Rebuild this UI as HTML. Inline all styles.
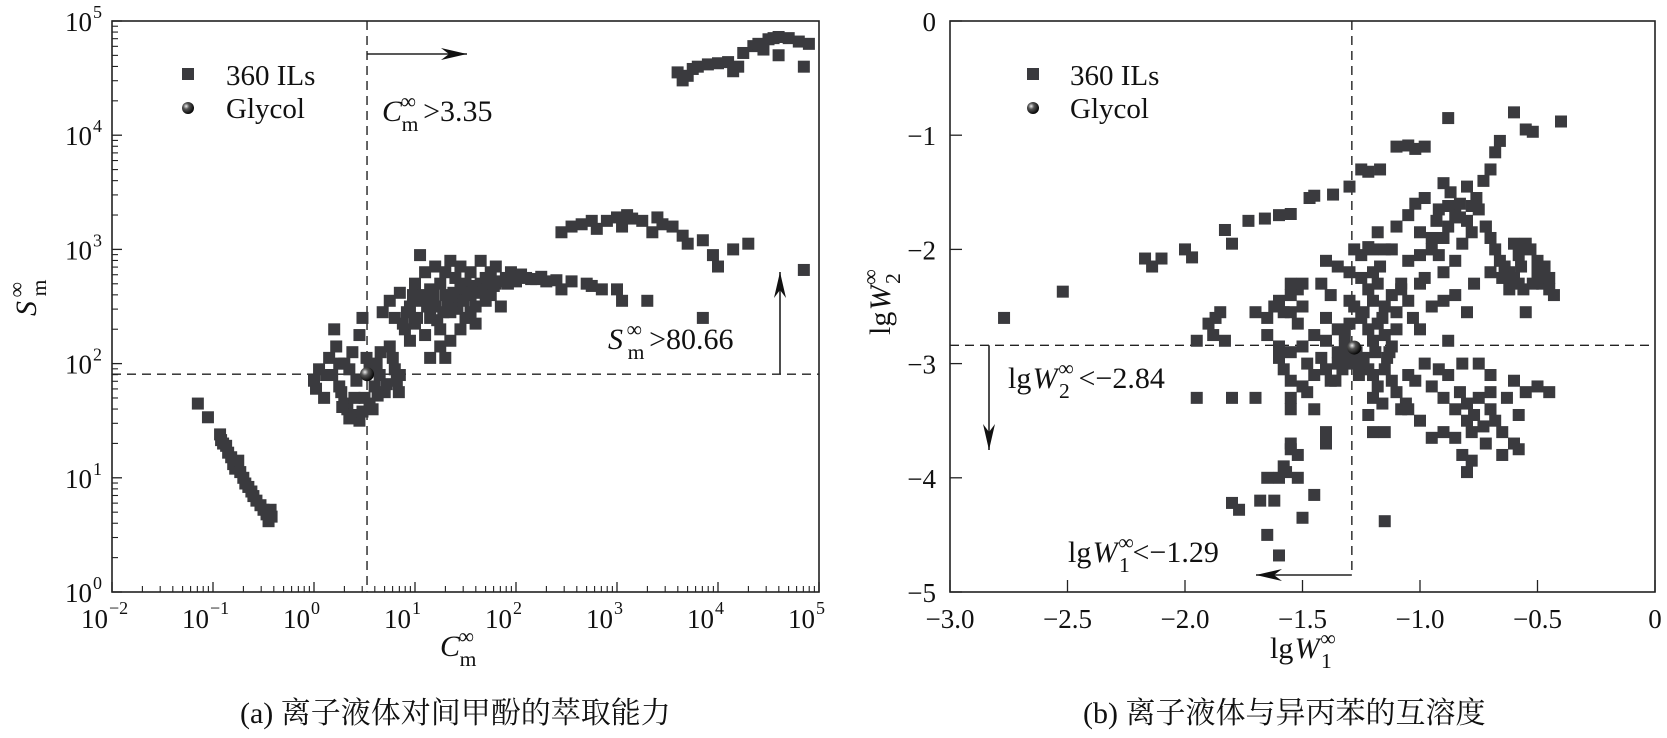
<!DOCTYPE html>
<html><head><meta charset="utf-8"><style>
html,body{margin:0;padding:0;background:#fff;}
svg{display:block;}
svg text{font-family:"Liberation Serif","Times New Roman","Noto Serif CJK SC",serif;}
</style></head><body>
<svg id="c" width="1667" height="738" viewBox="0 0 1667 738"></svg>
<script>
// ---- Panel (a) data: log10 C_m^inf and log10 S_m^inf ----
const aLogC = [-1.15,-1.05,-0.93,-0.92,-0.9,-0.87,-0.85,-0.82,-0.8,-0.78,-0.75,-0.73,-0.7,-0.68,-0.65,-0.62,-0.6,-0.57,-0.53,-0.5,-0.47,-0.45,-0.42,-0.43,
0.0,0.02,0.05,0.1,0.15,0.18,0.2,0.22,0.25,0.27,0.3,0.3,0.33,0.35,0.38,0.4,0.42,0.45,0.45,0.48,0.5,0.52,0.55,0.55,0.6,0.62,0.65,0.68,0.7,0.75,0.78,0.8,0.82,0.84,0.85,0.35,0.4,0.25,0.12,0.58,0.63,0.72,0.28,0.48,0.66,
0.75,0.8,0.85,0.9,0.95,1.0,1.0,1.05,1.05,1.1,1.1,1.15,1.15,1.2,1.2,1.25,1.25,1.3,1.3,1.35,1.35,1.4,1.4,1.45,1.45,1.5,1.5,1.55,1.55,1.6,1.6,1.65,1.65,1.7,1.7,1.75,1.8,1.8,1.9,1.95,2.0,2.05,2.1,2.2,2.3,2.4,2.45,2.55,2.7,2.75,2.85,1.25,1.3,1.45,1.55,1.75,1.85,1.15,0.95,1.35,
0.88,0.92,0.98,1.02,1.08,1.12,1.18,1.22,1.28,1.32,1.38,1.42,1.48,1.52,1.58,1.62,1.68,1.72,1.78,1.85,1.92,2.0,2.15,2.25,
3.0,3.05,3.3,3.85,
2.45,2.55,2.65,2.75,2.8,2.9,3.0,3.05,3.15,3.25,3.35,3.45,3.55,3.65,3.7,3.85,3.95,4.15,4.3,4.0,3.1,3.4,
4.85,
3.6,3.65,3.7,3.75,3.8,3.9,4.0,4.1,4.15,4.2,4.25,4.35,4.4,4.5,4.55,4.6,4.7,4.6,4.8,4.85,4.9,4.45];
const aLogS = [1.65,1.53,1.38,1.33,1.3,1.28,1.22,1.18,1.12,1.08,1.15,1.05,1.0,0.95,0.92,0.88,0.84,0.8,0.76,0.72,0.68,0.62,0.66,0.72,
1.85,1.78,1.95,1.7,2.05,1.9,2.3,2.15,1.8,1.75,2.0,1.65,1.6,1.95,2.1,1.55,1.85,2.25,1.5,2.4,1.7,2.05,1.95,1.65,1.8,2.0,1.9,2.45,1.75,2.15,2.05,1.95,1.85,1.75,1.9,1.52,1.7,2.0,1.9,1.6,1.72,1.82,1.62,1.58,2.1,
2.55,2.4,2.62,2.3,2.5,2.7,2.35,2.95,2.55,2.8,2.25,2.65,2.4,2.85,2.5,2.3,2.7,2.6,2.8,2.45,2.2,2.75,2.55,2.3,2.85,2.7,2.4,2.6,2.8,2.5,2.35,2.9,2.7,2.55,2.75,2.8,2.7,2.85,2.75,2.8,2.72,2.78,2.75,2.74,2.72,2.73,2.65,2.72,2.7,2.68,2.65,2.15,2.05,2.65,2.45,2.6,2.5,2.05,2.2,2.9,
2.35,2.45,2.6,2.4,2.6,2.5,2.6,2.38,2.45,2.52,2.62,2.48,2.55,2.62,2.68,2.62,2.65,2.7,2.68,2.72,2.7,2.76,2.74,2.76,
2.65,2.55,2.55,2.4,
3.15,3.2,3.22,3.25,3.18,3.25,3.28,3.2,3.27,3.25,3.15,3.22,3.2,3.12,3.05,3.08,2.95,3.0,3.05,2.85,3.3,3.28,
2.82,
4.55,4.48,4.52,4.58,4.6,4.62,4.63,4.64,4.56,4.6,4.72,4.78,4.8,4.84,4.85,4.86,4.85,4.7,4.82,4.6,4.8,4.75];
const aGlycol = [0.525, 1.907];
const aCut = [0.525, 1.907];

// ---- Panel (b) data: lgW1 and lgW2 ----
const bW1 = [-2.77,-2.52,-2.17,-2.14,-2.1,-2.0,-1.97,-1.83,-1.8,-1.73,-1.66,-1.6,-1.55,-1.47,-1.45,-1.37,-1.3,-1.25,-1.22,-1.17,-1.1,-1.05,-1.02,-0.98,-0.88,-0.6,-0.55,-0.52,-0.4,
-1.05,-1.02,-1.0,-0.98,-0.95,-0.93,-0.92,-0.9,-0.88,-0.87,-0.85,-0.85,-0.83,-0.82,-0.8,-0.8,-0.78,-0.77,-0.76,-0.75,-0.73,-0.72,-0.7,-0.68,-0.66,-1.1,-1.12,-1.08,-1.05,-0.98,-0.9,-0.85,-0.8,-0.95,-1.0,-0.92,-0.88,-0.83,-0.78,-0.9,
-0.72,-0.7,-0.68,-0.66,-0.64,-0.62,-0.6,-0.58,-0.56,-0.55,-0.5,-0.48,-0.45,-0.43,-0.6,-0.58,-0.55,-0.53,-0.5,-0.47,-0.45,-0.62,-0.57,-0.65,-0.52,-0.7,
-1.28,-1.25,-1.22,-1.2,-1.18,-1.15,-1.25,-1.22,-1.2,-1.18,-1.15,-1.12,-1.1,-1.08,-1.25,-1.22,-1.2,-1.18,-1.15,-1.12,-1.1,-1.28,-1.3,-1.35,-1.32,-1.35,-1.4,-1.4,-1.42,-1.45,-1.5,-1.48,-1.52,-1.55,-1.3,-1.35,-1.4,-1.42,-1.38,-1.05,-1.03,-1.0,-1.2,-1.17,-1.0,-0.95,-0.9,
-1.55,-1.52,-1.5,-1.55,-1.6,-1.62,-1.58,-1.65,-1.55,-1.85,-1.87,-1.88,-1.83,-1.9,-1.95,-1.65,-1.6,-1.5,-1.7,
-1.6,-1.58,-1.55,-1.55,-1.5,-1.48,-1.45,-1.4,-1.38,-1.35,-1.3,-1.28,-1.25,-1.22,-1.2,-1.2,-1.18,-1.16,-1.15,-1.12,-1.1,-1.08,-1.06,-1.2,-1.15,-1.22,-1.45,-1.55,-1.8,-1.7,-1.95,-1.55,-1.55,-1.52,-1.57,-1.52,-1.58,-1.6,-1.65,-1.68,-1.62,-1.5,-1.65,-1.6,-1.8,-1.77,-1.45,-1.15,-1.4,-1.4,-1.3,
-1.05,-1.02,-0.98,-0.95,-0.92,-0.9,-0.88,-0.85,-0.83,-0.8,-0.8,-0.78,-0.77,-0.75,-0.73,-0.72,-0.7,-0.68,-0.65,-0.63,-0.6,-0.58,-0.55,-0.5,-0.45,-0.82,-0.8,-0.78,-0.85,-0.9,-0.95,-1.0,-1.05,-0.82,-0.75,-0.7,-0.6,-0.65,-0.58,-0.88,-0.7,
-1.32,-1.27,-1.24,-1.33,-1.26,-1.19,-1.14,-1.24,-1.3,-1.16,-1.13,-1.36];
const bW2 = [-2.6,-2.37,-2.08,-2.15,-2.08,-2.0,-2.07,-1.83,-1.95,-1.75,-1.73,-1.7,-1.69,-1.55,-1.53,-1.52,-1.45,-1.3,-1.32,-1.3,-1.1,-1.09,-1.12,-1.1,-0.85,-0.8,-0.95,-0.97,-0.88,
-1.7,-1.6,-1.85,-1.55,-2.0,-1.75,-1.65,-1.9,-1.8,-1.5,-1.7,-2.1,-1.6,-1.95,-1.75,-1.45,-1.85,-2.3,-1.55,-1.65,-1.4,-1.8,-1.3,-1.15,-1.05,-1.8,-2.0,-2.3,-2.1,-2.25,-2.2,-2.4,-2.55,-1.9,-2.05,-2.05,-1.62,-1.72,-1.62,-1.42,
-1.8,-1.9,-2.0,-2.1,-2.15,-2.2,-2.25,-2.3,-2.35,-2.55,-2.2,-2.3,-2.35,-2.4,-1.95,-2.05,-1.95,-2.0,-2.1,-2.15,-2.25,-2.35,-2.15,-2.25,-2.3,-2.2,
-2.0,-2.05,-1.98,-2.0,-1.85,-2.0,-2.25,-2.35,-2.45,-2.3,-2.5,-2.4,-2.55,-2.35,-2.6,-2.7,-2.8,-2.65,-2.75,-2.85,-2.7,-2.5,-2.65,-2.7,-2.85,-2.9,-2.8,-2.6,-2.95,-2.75,-2.85,-3.0,-2.65,-2.9,-2.2,-2.15,-2.1,-2.3,-2.4,-2.45,-2.6,-2.3,-2.2,-2.15,-2.7,-2.5,-2.45,
-2.3,-2.35,-2.3,-2.4,-2.45,-2.5,-2.55,-2.6,-2.55,-2.55,-2.6,-2.75,-2.8,-2.65,-2.8,-2.75,-2.85,-2.5,-2.55,
-2.95,-3.05,-3.15,-3.3,-3.2,-3.25,-3.1,-3.05,-3.15,-3.0,-2.9,-2.95,-3.0,-3.05,-3.1,-3.3,-3.2,-3.35,-3.05,-3.15,-3.25,-3.4,-3.35,-3.6,-3.6,-3.45,-3.4,-3.4,-3.3,-3.3,-3.3,-3.75,-3.7,-3.8,-3.95,-4.0,-3.9,-4.0,-4.0,-4.2,-4.2,-4.35,-4.5,-4.68,-4.22,-4.28,-4.15,-4.38,-3.7,-3.6,-3.0,
-3.1,-3.15,-3.0,-3.2,-3.05,-3.3,-3.1,-3.4,-3.25,-3.5,-3.35,-3.6,-3.45,-3.3,-3.55,-3.7,-3.4,-3.5,-3.6,-3.3,-3.7,-3.45,-3.25,-3.2,-3.25,-3.8,-3.95,-3.85,-3.65,-3.6,-3.65,-3.5,-3.4,-3.0,-3.0,-3.1,-3.15,-3.8,-3.75,-2.8,-3.25,
-2.75,-2.9,-2.95,-3.05,-3.1,-2.9,-2.95,-2.55,-2.45,-2.6,-2.9,-3.15];
const bGlycol = [-1.28, -2.86];
const bCut = [-1.29, -2.84];

const aXTicks = [-2,-1,0,1,2,3,4,5];
const aYTicks = [0,1,2,3,4,5];
const bXTicks = [-3.0,-2.5,-2.0,-1.5,-1.0,-0.5,0];
const bXTickLabels = ["−3.0","−2.5","−2.0","−1.5","−1.0","−0.5","0"];
const bYTicks = [0,-1,-2,-3,-4,-5];
const bYTickLabels = ["0","−1","−2","−3","−4","−5"];

const NS="http://www.w3.org/2000/svg";
const FONT='"Liberation Serif","Times New Roman","Noto Serif CJK SC",serif';
const svg=document.getElementById('c');
function el(tag,attrs,parent){const e=document.createElementNS(NS,tag);for(const k in attrs)e.setAttribute(k,attrs[k]);(parent||svg).appendChild(e);return e;}
function txt(s,x,y,size,parent,anchor,style){const t=el('text',{x:x,y:y,'font-size':size,'text-anchor':anchor||'start',fill:'#111','font-family':FONT},parent);if(style)t.setAttribute('font-style',style);t.textContent=s;return t;}

const aL=112,aR=819,aT=21,aB=592;
const ax=v=>aL+(v+2)*(aR-aL)/7;
const ay=v=>aB-v*(aB-aT)/5;
const bL=950,bR=1655,bT=21,bB=592;
const bx=v=>bL+(v+3)*(bR-bL)/3;
const by=v=>bT-v*(bB-bT)/5;

const defs=el('defs',{});
const rg=el('radialGradient',{id:'ball',cx:'0.35',cy:'0.35',r:'0.7'},defs);
el('stop',{offset:'0','stop-color':'#eee'},rg);
el('stop',{offset:'0.35','stop-color':'#555'},rg);
el('stop',{offset:'1','stop-color':'#000'},rg);

// ===== Panel a =====
const ga=el('g',{});


const frameA=el('rect',{x:aL,y:aT,width:aR-aL,height:aB-aT,fill:'none',stroke:'#222','stroke-width':1.6},ga);


aXTicks.forEach((t,i)=>{
  const x=ax(t);
  el('line',{x1:x,y1:aB,x2:x,y2:aB-10,stroke:'#222','stroke-width':1.3},ga);
  if(i<aXTicks.length-1){for(let m=2;m<10;m++){const xm=ax(t+Math.log10(m));el('line',{x1:xm,y1:aB,x2:xm,y2:aB-6,stroke:'#222','stroke-width':1.1},ga);}}
  const g=el('g',{},ga);
  
  
  txt('10',x-4,aB+36,27,g,'end');
  txt(t<0?'−'+(-t):String(t),x-3,aB+22,18,g,'start');
});
aYTicks.forEach((t,i)=>{
  const y=ay(t);
  el('line',{x1:aL,y1:y,x2:aL+10,y2:y,stroke:'#222','stroke-width':1.3},ga);
  if(i<aYTicks.length-1){for(let m=2;m<10;m++){const ym=ay(t+Math.log10(m));el('line',{x1:aL,y1:ym,x2:aL+6,y2:ym,stroke:'#222','stroke-width':1.1},ga);}}
  const g=el('g',{},ga);
  
  
  txt('10',aL-20,y+10,27,g,'end');
  txt(String(t),aL-19,y-3,18,g,'start');
});
el('line',{x1:ax(aCut[0]),y1:aT,x2:ax(aCut[0]),y2:aB,stroke:'#222','stroke-width':1.4,'stroke-dasharray':'9,6'},ga);
el('line',{x1:aL,y1:ay(aCut[1]),x2:aR,y2:ay(aCut[1]),stroke:'#222','stroke-width':1.4,'stroke-dasharray':'9,6'},ga);
function arrow(x1,y1,x2,y2,parent,name){
  const g=el('g',{},parent);
  
  
  el('line',{x1:x1,y1:y1,x2:x2,y2:y2,stroke:'#222','stroke-width':1.6},g);
  const dx=x2-x1,dy=y2-y1,L=Math.hypot(dx,dy),ux=dx/L,uy=dy/L;
  const bxp=x2-ux*26,byp=y2-uy*26;
  el('polygon',{points:`${x2},${y2} ${bxp-uy*6},${byp+ux*6} ${x2-ux*18},${y2-uy*18} ${bxp+uy*6},${byp-ux*6}`,fill:'#111'},g);
}
arrow(ax(aCut[0]),54,467,54,ga,'arrow-c-right');
arrow(780,ay(aCut[1]),780,272,ga,'arrow-s-up');
function subsup(base,sup,sub,x,y,size,parent,italic,name){
  const g=el('g',{},parent);
  
  
  txt(base,x,y,size,g,'start',italic?'italic':null);
  const w=base.length*size*0.62;
  txt(sup,x+w,y-size*0.42,size*0.72,g,'start');
  txt(sub,x+w+1,y+size*0.33,size*0.72,g,'start');
  return [g,x+w+size*0.75];
}
let r=subsup('C','∞','m',382,121,30,ga,true,'annotation-c');
txt('>3.35',r[1],121,30,r[0]);
r=subsup('S','∞','m',608,349,30,ga,true,'annotation-s');
txt('>80.66',r[1],349,30,r[0]);
subsup('C','∞','m',440,656,30,ga,true,'x-axis-title-a');
const yta=el('g',{transform:'translate(36,300) rotate(-90)'},ga);


subsup('S','∞','m',-16,0,30,yta,true,'y-axis-title-a-text');
const la=el('g',{},ga);


el('rect',{x:182,y:68,width:12,height:12,fill:'#3a3a3e'},la);
txt('360 ILs',226,85,29,la);
el('circle',{cx:188,cy:108,r:6,fill:'url(#ball)'},la);
txt('Glycol',226,118,29,la);
const pa=el('g',{},ga);


for(let i=0;i<aLogC.length;i++){
  const p=el('rect',{x:ax(aLogC[i])-6,y:ay(aLogS[i])-6,width:12,height:12,fill:'#3a3a3e'},pa);
  
  
}
const ga1=el('circle',{cx:ax(aGlycol[0]),cy:ay(aGlycol[1]),r:7,fill:'url(#ball)'},ga);


const capA=txt('(a) 离子液体对间甲酚的萃取能力',240,723,30,ga);



// ===== Panel b =====
const gb=el('g',{});


const frameB=el('rect',{x:bL,y:bT,width:bR-bL,height:bB-bT,fill:'none',stroke:'#222','stroke-width':1.6},gb);


bXTicks.forEach((t,i)=>{
  const x=bx(t);
  el('line',{x1:x,y1:bB,x2:x,y2:bB-12,stroke:'#222','stroke-width':1.3},gb);
  const tl=txt(bXTickLabels[i],x,bB+36,27,gb,'middle');
  
  
});
bYTicks.forEach((t,i)=>{
  const y=by(t);
  el('line',{x1:bL,y1:y,x2:bL+12,y2:y,stroke:'#222','stroke-width':1.3},gb);
  const tl=txt(bYTickLabels[i],bL-14,y+10,27,gb,'end');
  
  
});
el('line',{x1:bx(bCut[0]),y1:bT,x2:bx(bCut[0]),y2:575,stroke:'#222','stroke-width':1.4,'stroke-dasharray':'9,6'},gb);
el('line',{x1:bL,y1:by(bCut[1]),x2:bR,y2:by(bCut[1]),stroke:'#222','stroke-width':1.4,'stroke-dasharray':'9,6'},gb);
arrow(989,by(bCut[1]),989,450,gb,'arrow-w2-down');
arrow(bx(bCut[0]),575,1256,575,gb,'arrow-w1-left');
function lgw(sub,x,y,size,parent,name){
  const g=el('g',{},parent);
  
  
  txt('lg',x,y,size,g);
  txt('W',x+size*0.82,y,size,g,'start','italic');
  txt('∞',x+size*1.68,y-size*0.42,size*0.72,g);
  txt(sub,x+size*1.7,y+size*0.33,size*0.72,g);
  return g;
}
let g2=lgw('2',1008,388,30,gb,'annotation-w2');
txt('<−2.84',1008+30*2.35,388,30,g2);
g2=lgw('1',1068,562,30,gb,'annotation-w1');
txt('<−1.29',1068+30*2.15,562,30,g2);
lgw('1',1270,658,30,gb,'x-axis-title-b');
const ytb=el('g',{transform:'translate(890,335) rotate(-90)'},gb);


lgw('2',0,0,30,ytb,'y-axis-title-b-text');
const lb=el('g',{},gb);


el('rect',{x:1027,y:68,width:12,height:12,fill:'#3a3a3e'},lb);
txt('360 ILs',1070,85,29,lb);
el('circle',{cx:1033,cy:108,r:6,fill:'url(#ball)'},lb);
txt('Glycol',1070,118,29,lb);
const pb=el('g',{},gb);


for(let i=0;i<bW1.length;i++){
  const p=el('rect',{x:bx(bW1[i])-6,y:by(bW2[i])-6,width:12,height:12,fill:'#3a3a3e'},pb);
  
  
}
const gb1=el('circle',{cx:bx(bGlycol[0]),cy:by(bGlycol[1]),r:7,fill:'url(#ball)'},gb);


const capB=txt('(b) 离子液体与异丙苯的互溶度',1083,723,30,gb);


</script>
</body></html>
